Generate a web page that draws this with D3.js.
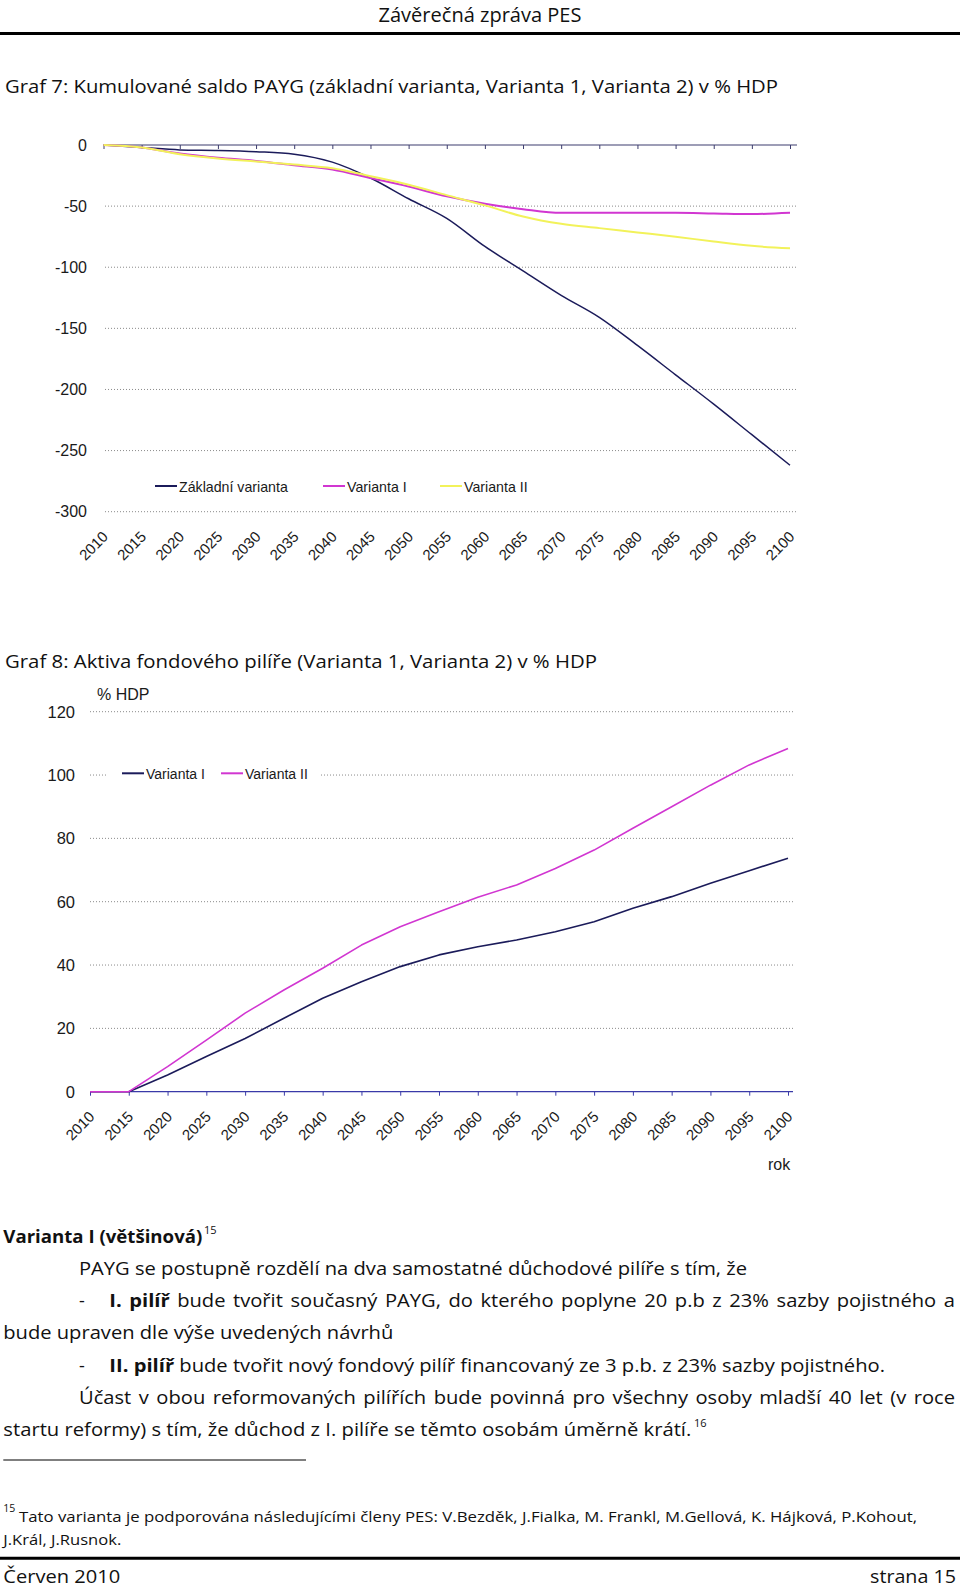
<!DOCTYPE html>
<html>
<head>
<meta charset="utf-8">
<script src="https://cdn.jsdelivr.net/npm/d3@7"></script>
<style>
body { margin: 0; background: #fff; }
svg { display: block; }
</style>
</head>
<body>
<div id="page"></div>
<script>
// categories (years) shared by both charts
var years = [2010, 2015, 2020, 2025, 2030, 2035, 2040, 2045, 2050, 2055, 2060, 2065, 2070, 2075, 2080, 2085, 2090, 2095, 2100];

// Graf 7: cumulated PAYG balance, % HDP
var saldoZakladni = [0, -2, -4, -4.5, -5.5, -7.5, -14, -27, -44, -60, -83, -103, -123, -141, -164, -188, -212, -237, -262];
var saldoVar1 = [0, -2, -7, -10.5, -13, -16.5, -20, -27, -34, -42, -48, -52.5, -55.5, -55.5, -55.5, -55.5, -56, -56.5, -55.5];
var saldoVar2 = [0, -2, -7.5, -11, -13.5, -16, -19, -25.5, -32.5, -41, -49.4, -58.5, -64.5, -68, -71.5, -75, -79, -82.5, -84.5];
var saldoTicks = [0, -50, -100, -150, -200, -250, -300];

// Graf 8: funded pillar assets, % HDP
var aktivaVar1 = [0, 0, 5.3, 11.1, 16.8, 23.2, 29.5, 34.7, 39.5, 43.2, 45.8, 47.9, 50.5, 53.7, 57.9, 61.6, 65.8, 69.8, 73.7];
var aktivaVar2 = [0, 0, 7.9, 16.3, 24.8, 32.1, 39, 46.3, 52.1, 56.8, 61.4, 65.3, 70.5, 76.3, 83.2, 90, 96.8, 103.2, 108.4];
var aktivaTicks = [0, 20, 40, 60, 80, 100, 120];

var navy = "#1b1b5a";
var magenta = "#d136d1";
var yellow = "#f2f25a";
var chartFont = "'Liberation Sans', Arial, sans-serif";
var docFont = "'Open Sans', sans-serif";

var svg = d3.select("#page")
            .append("svg")
            .attr("width", 960)
            .attr("height", 1589);

function pairs(values) {
    return years.map(function(y, i) { return { year: y, v: values[i] }; });
}

// ---------- Graf 7 ----------
var x1 = d3.scaleLinear().domain([2010, 2100]).range([103.5, 790]);
var y1 = d3.scaleLinear().domain([-300, 0]).range([511.7, 145]);
var g1 = svg.append("g");

g1.selectAll(".grid")
  .data(saldoTicks.filter(function(d) { return d !== 0; }))
  .enter()
  .append("line")
  .attr("x1", 105).attr("x2", 797)
  .attr("y1", d => y1(d)).attr("y2", d => y1(d))
  .attr("stroke", "#8a8a8a")
  .attr("stroke-width", 1)
  .attr("stroke-dasharray", "1,2");

g1.selectAll(".ylab")
  .data(saldoTicks)
  .enter()
  .append("text")
  .attr("x", 87)
  .attr("y", d => y1(d) + 5.5)
  .attr("text-anchor", "end")
  .attr("font-family", chartFont)
  .attr("font-size", "16px")
  .attr("fill", "#1a1a1a")
  .text(d => d);

var axis1 = g1.append("g")
              .attr("transform", `translate(0, ${y1(0)})`)
              .call(d3.axisBottom(x1).tickValues(years).tickSize(4).tickSizeOuter(0).tickFormat(""));
axis1.select(".domain").remove();
axis1.selectAll("line").attr("stroke", "#3d3d6e");
g1.append("line")
  .attr("x1", x1(2010)).attr("x2", 797)
  .attr("y1", y1(0)).attr("y2", y1(0))
  .attr("stroke", "#3d3d6e")
  .attr("stroke-width", 1.2);

// year labels sit at the bottom of the plot (axis crosses at the minimum)
var labels1 = g1.append("g")
                .attr("transform", `translate(0, ${y1(-300)})`)
                .call(d3.axisBottom(x1).tickValues(years).tickSize(0).tickFormat(d3.format("d")));
labels1.select(".domain").remove();
labels1.selectAll("text")
       .attr("font-family", chartFont)
       .attr("font-size", "15px")
       .attr("fill", "#1a1a1a")
       .attr("text-anchor", "end")
       .attr("x", 0).attr("y", 0).attr("dy", 0)
       .attr("transform", "translate(5, 26) rotate(-45)");

var line1 = d3.line().curve(d3.curveMonotoneX).x(d => x1(d.year)).y(d => y1(d.v));
[[saldoZakladni, navy, 1.5], [saldoVar1, magenta, 2], [saldoVar2, yellow, 2]].forEach(function(s) {
    g1.append("path")
      .datum(pairs(s[0]))
      .attr("fill", "none")
      .attr("stroke", s[1])
      .attr("stroke-width", s[2])
      .attr("stroke-linejoin", "round")
      .attr("d", line1);
});

var legend1 = [["Základní varianta", navy, 155], ["Varianta I", magenta, 323], ["Varianta II", yellow, 440]];
legend1.forEach(function(l) {
    g1.append("line")
      .attr("x1", l[2]).attr("x2", l[2] + 22)
      .attr("y1", 486).attr("y2", 486)
      .attr("stroke", l[1]).attr("stroke-width", 2);
    g1.append("text")
      .attr("x", l[2] + 24).attr("y", 491.5)
      .attr("font-family", chartFont)
      .attr("font-size", "14.2px")
      .attr("fill", "#1a1a1a")
      .text(l[0]);
});

// ---------- Graf 8 ----------
var x2 = d3.scaleLinear().domain([2010, 2100]).range([90, 788]);
var y2 = d3.scaleLinear().domain([0, 120]).range([1091.7, 711.7]);
var g2 = svg.append("g");

g2.selectAll(".grid")
  .data(aktivaTicks.filter(function(d) { return d !== 0; }))
  .enter()
  .append("line")
  .attr("x1", 90).attr("x2", 793)
  .attr("y1", d => y2(d)).attr("y2", d => y2(d))
  .attr("stroke", "#8a8a8a")
  .attr("stroke-width", 1)
  .attr("stroke-dasharray", "1,2");

g2.selectAll(".ylab")
  .data(aktivaTicks)
  .enter()
  .append("text")
  .attr("x", 75)
  .attr("y", d => y2(d) + 6)
  .attr("text-anchor", "end")
  .attr("font-family", chartFont)
  .attr("font-size", "16.5px")
  .attr("fill", "#1a1a1a")
  .text(d => d);

var axis2 = g2.append("g")
              .attr("transform", `translate(0, ${y2(0)})`)
              .call(d3.axisBottom(x2).tickValues(years).tickSize(4).tickSizeOuter(0).tickFormat(d3.format("d")));
axis2.select(".domain").remove();
axis2.selectAll("line").attr("stroke", "#3a3aa8");
axis2.selectAll("text")
     .attr("font-family", chartFont)
     .attr("font-size", "15px")
     .attr("fill", "#1a1a1a")
     .attr("text-anchor", "end")
     .attr("x", 0).attr("y", 0).attr("dy", 0)
     .attr("transform", "translate(5, 26) rotate(-45)");
g2.append("line")
  .attr("x1", x2(2010)).attr("x2", 793)
  .attr("y1", y2(0)).attr("y2", y2(0))
  .attr("stroke", "#3a3aa8")
  .attr("stroke-width", 1.2);

// straight segments here: the series start with a sharp kink in 2015
var line2 = d3.line().x(d => x2(d.year)).y(d => y2(d.v));
[[aktivaVar1, navy, 1.6], [aktivaVar2, magenta, 1.6]].forEach(function(s) {
    g2.append("path")
      .datum(pairs(s[0]))
      .attr("fill", "none")
      .attr("stroke", s[1])
      .attr("stroke-width", s[2])
      .attr("stroke-linejoin", "round")
      .attr("d", line2);
});

g2.append("rect")
  .attr("x", 107).attr("y", 764)
  .attr("width", 213).attr("height", 19)
  .attr("fill", "#fff");
var legend2 = [["Varianta I", navy, 122], ["Varianta II", magenta, 221]];
legend2.forEach(function(l) {
    g2.append("line")
      .attr("x1", l[2]).attr("x2", l[2] + 22)
      .attr("y1", 773.3).attr("y2", 773.3)
      .attr("stroke", l[1]).attr("stroke-width", 2);
    g2.append("text")
      .attr("x", l[2] + 24).attr("y", 778.5)
      .attr("font-family", chartFont)
      .attr("font-size", "14px")
      .attr("fill", "#1a1a1a")
      .text(l[0]);
});

g2.append("text")
  .attr("x", 97).attr("y", 700)
  .attr("font-family", chartFont)
  .attr("font-size", "16px")
  .attr("fill", "#1a1a1a")
  .text("% HDP");
g2.append("text")
  .attr("x", 768).attr("y", 1170)
  .attr("font-family", chartFont)
  .attr("font-size", "16px")
  .attr("fill", "#1a1a1a")
  .text("rok");

// ---------- document text ----------
var bodyScale = 1;

function docText(x, y, size, parts, width, mode, anchor) {
    var t = svg.append("text")
               .attr("x", x).attr("y", y)
               .attr("font-family", docFont)
               .attr("font-size", size + "px")
               .attr("fill", "#111")
               .attr("text-anchor", anchor || "start");
    parts.forEach(function(p) {
        t.append("tspan")
         .attr("font-weight", p[1] ? "bold" : "normal")
         .text(p[0]);
    });
    if (width) {
        var nat = t.node().getComputedTextLength();
        if (mode === "justify") {
            // stretch glyphs like the other body lines, fill the rest with word spacing
            var spaces = (t.node().textContent.match(/ /g) || []).length;
            t.style("word-spacing", Math.max(0, (width / bodyScale - nat) / spaces) + "px");
        }
        t.attr("textLength", width).attr("lengthAdjust", "spacingAndGlyphs");
        if (mode === "body") bodyScale = width / nat;
    }
    return t;
}

docText(480, 22, 19.5, [["Závěrečná zpráva PES"]], 203, "fit", "middle");
svg.append("line").attr("x1", 0).attr("x2", 960).attr("y1", 33.5).attr("y2", 33.5)
   .attr("stroke", "#000").attr("stroke-width", 3);

docText(5, 93, 18.5, [["Graf 7: Kumulované saldo PAYG (základní varianta, Varianta 1, Varianta 2) v % HDP"]], 773, "fit");
docText(5, 668, 18.5, [["Graf 8: Aktiva fondového pilíře (Varianta 1, Varianta 2) v % HDP"]], 592, "fit");

var bodySize = 18;
docText(3.3, 1243, bodySize, [["Varianta I (většinová)", true]], 199, "fit");
docText(204, 1234, 11, [["15"]]);
docText(79, 1275, bodySize, [["PAYG se postupně rozdělí na dva samostatné důchodové pilíře s tím, že"]], 668, "body");
docText(79, 1307, bodySize, [["-"]]);
docText(109.3, 1307, bodySize, [["I. pilíř", true], [" bude tvořit současný PAYG, do kterého poplyne 20 p.b z 23% sazby pojistného a"]], 845.7, "justify");
docText(3.3, 1339, bodySize, [["bude upraven dle výše uvedených návrhů"]], 390, "fit");
docText(79, 1371.5, bodySize, [["-"]]);
docText(109.3, 1371.5, bodySize, [["II. pilíř", true], [" bude tvořit nový fondový pilíř financovaný ze 3 p.b. z 23% sazby pojistného."]], 775.7, "fit");
docText(79, 1404, bodySize, [["Účast v obou reformovaných pilířích bude povinná pro všechny osoby mladší 40 let (v roce"]], 876, "justify");
docText(3.3, 1436, bodySize, [["startu reformy) s tím, že důchod z I. pilíře se těmto osobám úměrně krátí."]], 688, "fit");
docText(694, 1427, 11, [["16"]]);

svg.append("line").attr("x1", 3.3).attr("x2", 306).attr("y1", 1460).attr("y2", 1460)
   .attr("stroke", "#000").attr("stroke-width", 1.2);
docText(3.3, 1512, 10.5, [["15"]]);
docText(19, 1521.7, 15, [["Tato varianta je podporována následujícími členy PES: V.Bezděk, J.Fialka, M. Frankl, M.Gellová, K. Hájková, P.Kohout,"]], 898, "fit");
docText(3.3, 1545, 15, [["J.Král, J.Rusnok."]], 118, "fit");

svg.append("line").attr("x1", 0).attr("x2", 960).attr("y1", 1558.3).attr("y2", 1558.3)
   .attr("stroke", "#000").attr("stroke-width", 3);
docText(3.3, 1582.5, 18.5, [["Červen 2010"]], 117, "fit");
docText(956, 1582.5, 18.5, [["strana 15"]], 86, "fit", "end");
</script>
</body>
</html>
